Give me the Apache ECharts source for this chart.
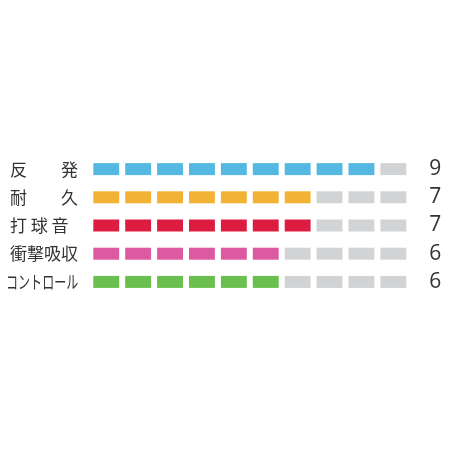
<!DOCTYPE html>
<html><head><meta charset="utf-8">
<script src="https://cdn.jsdelivr.net/npm/echarts@6/dist/echarts.min.js"></script>
<style>html,body{margin:0;padding:0;background:#fff}#c{width:450px;height:450px}</style>
</head><body><div id="c"></div>
<script>
var categories = ['反発', '耐久', '打球音', '衝撃吸収', 'コントロール'];
var labelTexts = ['反　　発', '耐　　久', '打 球 音', '衝撃吸収', 'コントロール'];
var values = [9, 7, 7, 6, 6];
var maxValue = 10;
var colors = ['#55b8e2', '#f2b234', '#dc1d41', '#dc5aa2', '#6bbf4e'];
var emptyColor = '#d2d3d5';

var chart = echarts.init(document.getElementById('c'), null, {renderer: 'canvas'});
var data = values.map(function (v, i) { return [v, i]; });

chart.setOption({
  animation: false,
  backgroundColor: '#ffffff',
  grid: {left: 93.3, top: 155, width: 319, height: 141},
  xAxis: {type: 'value', min: 0, max: maxValue, show: false},
  yAxis: [{
    type: 'category', data: categories, inverse: true,
    axisLine: {show: false}, axisTick: {show: false}, axisLabel: {show: false}
  }, {
    type: 'category', data: values.map(String), inverse: true, position: 'right',
    axisLine: {show: false}, axisTick: {show: false},
    axisLabel: {align: 'center', margin: 23, fontSize: 21, color: '#333', fontFamily: 'Open Sans'}
  }],
  series: [{
    type: 'custom',
    data: data,
    renderItem: function (params, api) {
      var v = api.value(0), row = api.value(1);
      var c = api.coord([0, row]);
      var children = [];
      for (var i = 0; i < maxValue; i++) {
        var x0 = api.coord([i, row])[0];
        var x1 = api.coord([i + 1, row])[0];
        children.push({
          type: 'rect',
          shape: {x: x0, y: c[1] - 6, width: x1 - x0 - 6, height: 12},
          style: {fill: i < v ? colors[row] : emptyColor}
        });
      }
      var condensed = row === 4;
      children.push({
        type: 'text',
        x: condensed ? 6 : 10,
        y: c[1] + (condensed ? 0.5 : 0),
        scaleX: condensed ? 0.67 : 1,
        style: {
          text: labelTexts[row],
          fontSize: condensed ? 18 : 17,
          fontFamily: 'Noto Sans CJK JP',
          fill: '#333',
          align: 'left',
          verticalAlign: 'middle'
        }
      });
      return {type: 'group', children: children};
    }
  }]
});
</script></body></html>
